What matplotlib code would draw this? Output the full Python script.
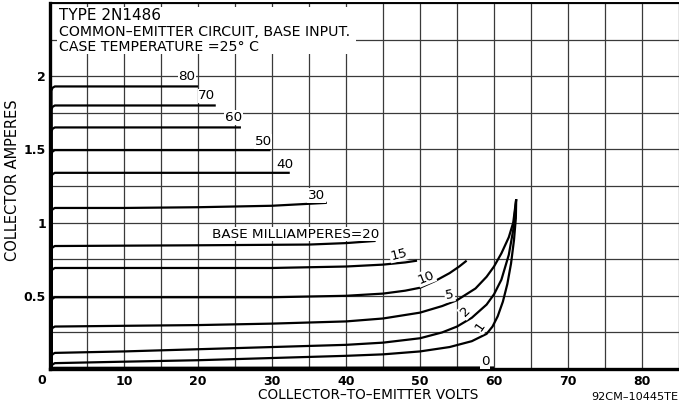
import numpy as np
import matplotlib.pyplot as plt
from matplotlib.patches import Rectangle

# base current (mA) of each curve, top to bottom
base_ma = ['80', '70', '60', '50', '40', '30', '20', '15', '10', '5', '2', '1', '0']

# collector volts / collector amperes
v80 = [0.2, 0.2, 0.32, 0.65, 20.0]
i80 = [0.0, 1.90, 1.92, 1.93, 1.93]
v70 = [0.2, 0.2, 0.32, 0.65, 22.4]
i70 = [0.0, 1.77, 1.79, 1.80, 1.80]
v60 = [0.2, 0.2, 0.32, 0.65, 25.8]
i60 = [0.0, 1.62, 1.64, 1.65, 1.65]
v50 = [0.2, 0.2, 0.32, 0.65, 29.8]
i50 = [0.0, 1.465, 1.485, 1.495, 1.495]
v40 = [0.2, 0.2, 0.32, 0.65, 32.4]
i40 = [0.0, 1.31, 1.33, 1.34, 1.34]
v30 = [0.2, 0.2, 0.32, 0.65, 10, 20, 30, 37.4]
i30 = [0.0, 1.07, 1.09, 1.10, 1.10, 1.105, 1.115, 1.135]
v20 = [0.2, 0.2, 0.32, 0.65, 20, 35, 40, 44.0]
i20 = [0.0, 0.81, 0.83, 0.84, 0.845, 0.85, 0.86, 0.875]
v15 = [0.2, 0.2, 0.32, 0.65, 30, 40, 45, 48, 49.6]
i15 = [0.0, 0.66, 0.68, 0.69, 0.69, 0.70, 0.713, 0.728, 0.74]
v10 = [0.2, 0.2, 0.32, 0.65, 30, 40, 45, 48, 50, 52, 54, 55.3, 56.3]
i10 = [0.0, 0.46, 0.48, 0.49, 0.49, 0.50, 0.515, 0.535, 0.555, 0.60, 0.655, 0.70, 0.74]
v5 = [0.2, 0.2, 0.32, 0.65, 10, 20, 30, 40, 45, 50, 53, 55, 57.5, 59, 60, 61, 62, 62.6, 63]
i5 = [0.0, 0.26, 0.28, 0.29, 0.295, 0.30, 0.31, 0.325, 0.345, 0.385, 0.43, 0.47, 0.55, 0.63, 0.70, 0.79, 0.90, 1.0, 1.16]
v2 = [0.2, 0.2, 0.32, 0.65, 10, 20, 30, 40, 45, 50, 53, 55, 57, 59, 60, 61, 62, 62.6, 63]
i2 = [0.0, 0.08, 0.10, 0.11, 0.12, 0.135, 0.15, 0.165, 0.18, 0.21, 0.25, 0.29, 0.35, 0.44, 0.51, 0.61, 0.78, 0.95, 1.16]
v1 = [0.2, 0.2, 0.32, 0.65, 10, 20, 30, 40, 45, 50, 54, 57, 59, 59.8, 60.5, 61.2, 61.8, 62.3, 62.7, 62.95, 63]
i1 = [0.0, 0.015, 0.03, 0.04, 0.05, 0.06, 0.075, 0.09, 0.10, 0.12, 0.15, 0.19, 0.24, 0.29, 0.36, 0.46, 0.58, 0.72, 0.88, 1.03, 1.16]
v0 = [0.2, 60.0]
i0 = [0.008, 0.01]

# axis ticks
x_ticks = np.arange(0, 86, 5)
x_labels = ['', '', '10', '', '20', '', '30', '', '40', '', '50', '', '60', '', '70', '', '80', '']
y_ticks = np.arange(0, 2.51, 0.25)
y_labels = ['', '', '0.5', '', '1', '', '1.5', '', '2', '', '']

curves = [(v80, i80), (v70, i70), (v60, i60), (v50, i50), (v40, i40), (v30, i30),
          (v20, i20), (v15, i15), (v10, i10), (v5, i5), (v2, i2), (v1, i1), (v0, i0)]

# where each curve label sits (volts, amps, rotation)
label_spots = [(18.5, 2.0, 0), (21.2, 1.865, 0), (24.8, 1.72, 0), (28.8, 1.555, 0),
               (31.8, 1.40, 0), (36.0, 1.185, 0), (33.2, 0.922, 0), (47.1, 0.785, 14),
               (50.8, 0.625, 22), (54.0, 0.507, 10), (56.1, 0.39, 45), (58.1, 0.29, 55),
               (58.8, 0.05, 0)]

fig = plt.figure(figsize=(6.79, 4.04), dpi=100)
ax = fig.add_axes([50/679, 35/404, 629/679, 366/404])

ax.set_xlim(0, 85)
ax.set_ylim(0, 2.5)
ax.set_xticks(x_ticks)
ax.set_xticklabels(x_labels)
ax.set_yticks(y_ticks)
ax.set_yticklabels(y_labels)
ax.tick_params(length=0, labelsize=9, pad=3)
ax.tick_params(axis='x', pad=4)
for t in ax.get_xticklabels() + ax.get_yticklabels():
    t.set_fontweight('bold')
ax.grid(True, color='#3a3a3a', linewidth=0.9)
ax.set_axisbelow(True)

for s in ['left', 'bottom']:
    ax.spines[s].set_linewidth(2.4)
ax.spines['top'].set_linewidth(1.4)
ax.spines['right'].set_visible(False)

# origin label sits left of the axis
ax.text(-1.1, -0.035, '0', ha='center', va='top', fontsize=9, fontweight='bold',
        clip_on=False)

for v, i in curves:
    ax.plot(v, i, color='black', linewidth=1.6, solid_capstyle='butt', zorder=3)

for lab, (x, y, rot) in zip(base_ma, label_spots):
    txt = 'BASE MILLIAMPERES=20' if lab == '20' else lab
    ax.text(x, y, txt, ha='center', va='center', rotation=rot, fontsize=9.7,
            zorder=4, bbox=dict(fc='white', ec='none', pad=0.6))

# white block behind the heading
ax.add_patch(Rectangle((1.0, 2.15), 40.3, 0.32, fc='white', ec='none', zorder=2))
ax.text(1.2, 2.415, 'TYPE 2N1486', fontsize=11, va='center', zorder=4)
ax.text(1.2, 2.302, 'COMMON\u2013EMITTER CIRCUIT, BASE INPUT.', fontsize=10.2,
        va='center', zorder=4)
ax.text(1.2, 2.198, 'CASE TEMPERATURE =25\u00b0 C', fontsize=10.2, va='center', zorder=4)

ax.set_xlabel('COLLECTOR\u2013TO\u2013EMITTER VOLTS', fontsize=9.8, va='center')
ax.xaxis.set_label_coords(0.506, -0.072)
ax.set_ylabel('COLLECTOR AMPERES', fontsize=10.5)
ax.yaxis.set_label_coords(-0.048, 0.516)

fig.text(591/679, 7/404, '92CM\u201310445TE', fontsize=8.1, va='center', ha='left')

fig.savefig('out.png', dpi=100)
